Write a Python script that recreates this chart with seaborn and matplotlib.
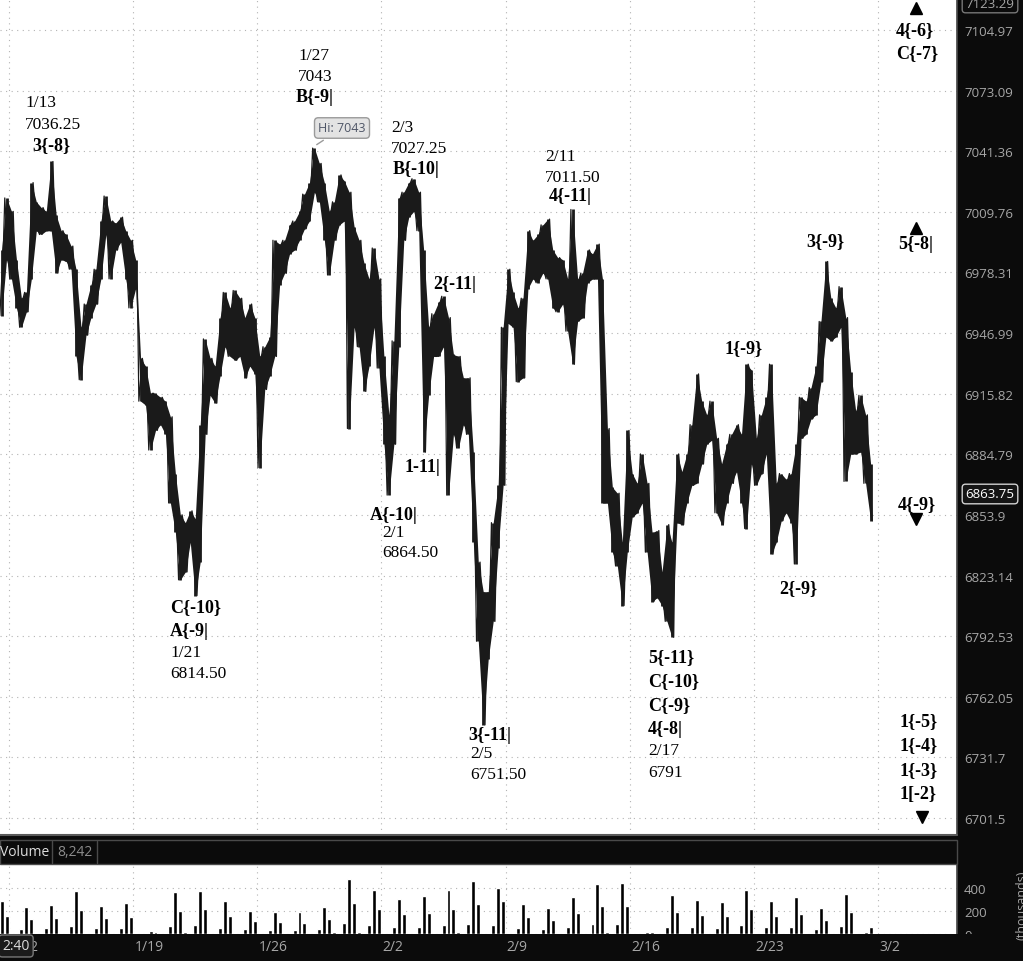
import numpy as np
import pandas as pd
import matplotlib
matplotlib.use('Agg')
import matplotlib.pyplot as plt
import seaborn as sns
from matplotlib.patches import Rectangle
from matplotlib.lines import Line2D
from matplotlib.ticker import FixedLocator, NullLocator, NullFormatter

# bars: 5 per trading day (high / low)
highs = [6990, 7017, 7010, 6985, 6965, 6968, 7025, 7015, 7012, 7010,
         7036, 7008, 7000, 6998, 6992, 6980, 6950, 6962, 6972, 6980,
         7005, 7018, 7005, 7004, 7007, 7000, 6995, 6985, 6934, 6930,
         6916, 6916, 6914, 6912, 6904, 6875, 6854, 6850, 6856, 6852,
         6900, 6944, 6934, 6930, 6955, 6968, 6960, 6969, 6965, 6955,
         6962, 6955, 6935, 6940, 6945, 6995, 6993, 6995, 7003, 7005,
         7010, 7019, 7025, 7043, 7035, 7025, 7010, 7015, 7029, 7026,
         7020, 7002, 6995, 6983, 6975, 6991, 6975, 6935, 6905, 6943,
         7017, 7020, 7025, 7027, 7020, 6990, 6950, 6957, 6963, 6966,
         6955, 6936, 6935, 6924, 6924, 6886, 6830, 6815, 6815, 6850,
         6869, 6950, 6980, 6968, 6960, 6965, 7000, 6995, 6998, 7003,
         7006, 6990, 6986, 6985, 6975, 7011, 6975, 6978, 6990, 6988,
         6993, 6975, 6898, 6868, 6865, 6840, 6897, 6875, 6870, 6885,
         6870, 6845, 6846, 6825, 6849, 6840, 6885, 6876, 6885, 6900,
         6926, 6912, 6905, 6912, 6893, 6880, 6890, 6895, 6900, 6895,
         6931, 6928, 6893, 6905, 6914, 6931, 6870, 6875, 6872, 6875,
         6890, 6914, 6912, 6919, 6930, 6953, 6984, 6965, 6960, 6971,
         6955, 6927, 6907, 6915, 6905, 6880]
lows = [6956, 6985, 6975, 6960, 6950, 6958, 6975, 7000, 6998, 7000,
        7000, 6978, 6985, 6984, 6980, 6935, 6923, 6946, 6955, 6962,
        6975, 6998, 6975, 6990, 6994, 6975, 6960, 6970, 6912, 6910,
        6887, 6897, 6900, 6895, 6860, 6845, 6821, 6825, 6840, 6813,
        6830, 6895, 6915, 6911, 6925, 6940, 6935, 6933, 6935, 6924,
        6930, 6926, 6878, 6918, 6925, 6935, 6972, 6978, 6988, 6990,
        6995, 7001, 7005, 7020, 7015, 6995, 6977, 6995, 7003, 7005,
        6898, 6950, 6940, 6917, 6930, 6950, 6929, 6890, 6864, 6890,
        6940, 6995, 7007, 7010, 7000, 6886, 6915, 6935, 6935, 6940,
        6864, 6895, 6888, 6900, 6895, 6840, 6790, 6748, 6781, 6800,
        6837, 6869, 6952, 6950, 6922, 6924, 6970, 6975, 6973, 6978,
        6975, 6960, 6958, 6962, 6948, 6931, 6953, 6955, 6973, 6975,
        6975, 6860, 6860, 6835, 6828, 6808, 6835, 6853, 6855, 6860,
        6835, 6810, 6812, 6808, 6800, 6792, 6850, 6849, 6860, 6869,
        6870, 6880, 6890, 6892, 6855, 6849, 6860, 6870, 6876, 6860,
        6847, 6880, 6869, 6875, 6885, 6834, 6840, 6851, 6855, 6850,
        6829, 6893, 6895, 6903, 6905, 6922, 6945, 6943, 6945, 6950,
        6871, 6885, 6885, 6886, 6870, 6851]
volume = [290,
          160, 10, 6, 45, 232,   128, 8, 5, 50, 255,   140, 12, 8, 70, 377,
          210, 9, 6, 48, 246,    135, 10, 7, 52, 267,  150, 12, 6, 10, 30,
          18, 10, 8, 70, 362,    200, 14, 9, 75, 377,  215, 11, 7, 55, 290,
          160, 9, 6, 40, 203,    115, 8, 5, 38, 194,   105, 9, 6, 36, 188,
          100, 10, 7, 45, 232,   130, 15, 10, 95, 478, 270, 14, 9, 75, 383,
          215, 12, 8, 60, 304,   170, 11, 7, 65, 328,  185, 13, 9, 75, 383,
          215, 14, 10, 90, 464,  260, 13, 9, 80, 400,  290, 10, 7, 50, 261,
          150, 9, 6, 45, 226,    125, 11, 8, 62, 319,  180, 13, 9, 85, 435,
          240, 14, 10, 88, 443,  245, 12, 6, 8, 20,    14, 10, 8, 65, 339,
          190, 11, 7, 58, 299,   165, 10, 7, 55, 281,  155, 12, 8, 75, 385,
          215, 11, 7, 58, 290,   160, 11, 8, 62, 319,  175, 9, 6, 45, 226,
          125, 12, 8, 68, 348,   190, 10, 7, 20, 58]
last_price = 6863.75
last_volume = '8,242'

price_ticks = [7104.97, 7073.09, 7041.36, 7009.76, 6978.31, 6946.99, 6915.82,
               6884.79, 6853.9, 6823.14, 6792.53, 6762.05, 6731.7, 6701.5]
price_labels = ['7104.97', '7073.09', '7041.36', '7009.76', '6978.31', '6946.99', '6915.82',
                '6884.79', '6853.9', '6823.14', '6792.53', '6762.05', '6731.7', '6701.5']
date_ticks = [0, 5, 10, 15, 20, 25, 30, 35]   # trading days from 1/12
date_labels = ['1/12', '1/19', '1/26', '2/2', '2/9', '2/16', '2/23', '3/2']
vol_ticks = [0, 200, 400]

# wave labels (pixel x left, pixel y centre, text, bold)
waves = [
    (25, 103, '1/13', 0), (25, 125, '7036.25', 0), (32, 146, '3{-8}', 1),
    (298, 56, '1/27', 0), (298, 77, '7043', 0), (296, 98, 'B{-9|', 1),
    (391, 128, '2/3', 0), (391, 149, '7027.25', 0), (393, 170, 'B{-10|', 1),
    (545, 157, '2/11', 0), (545, 178, '7011.50', 0), (549, 197, '4{-11|', 1),
    (433, 285, '2{-11|', 1), (405, 468, '1-11|', 1),
    (370, 515, 'A{-10|', 1), (382, 533, '2/1', 0), (382, 553, '6864.50', 0),
    (170, 608, 'C{-10}', 1), (170, 632, 'A{-9|', 1), (170, 653, '1/21', 0), (170, 674, '6814.50', 0),
    (468, 735, '3{-11|', 1), (470, 754, '2/5', 0), (470, 775, '6751.50', 0),
    (648, 658, '5{-11}', 1), (648, 682, 'C{-10}', 1), (648, 706, 'C{-9}', 1), (648, 730, '4{-8|', 1),
    (648, 751, '2/17', 0), (648, 773, '6791', 0),
    (725, 349, '1{-9}', 1), (806, 242, '3{-9}', 1), (779, 589, '2{-9}', 1),
    (896, 31, '4{-6}', 1), (896, 54, 'C{-7}', 1), (898, 245, '5{-8|', 1), (898, 505, '4{-9}', 1),
    (900, 722, '1{-5}', 1), (900, 746, '1{-4}', 1), (900, 771, '1{-3}', 1), (900, 795, '1[-2}', 1),
]
arrows = [(916, 9, '^'), (916, 229, '^'), (916, 520, 'v'), (922, 818, 'v')]

sns.set_theme(style='white')
plt.rcParams['font.family'] = ['Open Sans', 'DejaVu Sans']

DARK = '#0b0b0b'
GREY = '#a6a6a6'
INK = '#1a1a1a'
W, H = 1023, 962
PW = 957            # width of the plotting area in px
bar_day = np.arange(len(highs)) / 5 - 0.3
x_left = -9 / 24.83
x_right = (PW - 9) / 24.83

fig = plt.figure(figsize=(W / 100, H / 100), dpi=100, facecolor=DARK)

# ---- price panel
ax = fig.add_axes([0, 1 - 836 / H, PW / W, 836 / H], facecolor='white')
ax.fill_between(bar_day, lows, highs, color=INK, lw=0)
ax.vlines(bar_day, lows, highs, color=INK, lw=2.0)
zx, zy = [], []
for i, (t, h, l) in enumerate(zip(bar_day, highs, lows)):
    zx += [t - 0.07, t + 0.07]
    zy += [l, h] if i % 2 == 0 else [h, l]
sns.lineplot(x=zx, y=zy, sort=False, estimator=None, color=INK, lw=0.9, ax=ax)
ax.set_yscale('log')
ax.set_ylim(6693.1, 7121.33)
ax.set_xlim(x_left, x_right)
ax.yaxis.set_major_locator(FixedLocator(price_ticks))
ax.yaxis.set_minor_locator(NullLocator())
ax.yaxis.set_minor_formatter(NullFormatter())
ax.set_yticklabels(price_labels)
ax.yaxis.tick_right()
ax.set_xticks(date_ticks)
ax.set_xticklabels([])
ax.tick_params(axis='y', length=0, pad=5, labelcolor=GREY, labelsize=9.5)
ax.tick_params(axis='x', length=0)
ax.grid(True, color='#b3b3b3', ls=(0, (1, 4)), lw=0.8)
for s in ['top', 'left', 'bottom']:
    ax.spines[s].set_visible(False)
ax.spines['right'].set_color('#4a4a4a')

for x, y, txt, b in waves:
    ax.text(x / PW, 1 - y / 836, txt, transform=ax.transAxes, ha='left', va='center',
            family='Liberation Serif', fontweight='bold' if b else 'normal',
            fontsize=13 if b else 12.5, color='black')
for x, y, m in arrows:
    ax.plot([x / PW], [1 - y / 836], marker=m, color='black', ms=8, transform=ax.transAxes,
            clip_on=False)

ax.annotate('Hi: 7043', xy=(bar_day[63], 7044), xytext=(342 / PW, 1 - 129 / 836),
            textcoords='axes fraction', ha='center', va='center', fontsize=9, color='#4e5566',
            bbox=dict(boxstyle='round,pad=0.3', fc='#e3e3e3', ec='#9a9a9a', lw=1),
            arrowprops=dict(arrowstyle='-', color='#9a9a9a', lw=1))

# ---- volume panel
axv = fig.add_axes([0, 27 / H, PW / W, 70 / H], facecolor='white')
axv.bar(bar_day, volume, width=0.16, color='black')
axv.set_xlim(x_left, x_right)
axv.set_ylim(0, 609)
axv.set_yticks(vol_ticks)
axv.yaxis.tick_right()
axv.set_xticks(date_ticks)
axv.set_xticklabels([])
axv.tick_params(axis='y', length=0, pad=5, labelcolor=GREY, labelsize=9.5)
axv.tick_params(axis='x', length=0)
axv.grid(True, color='#b3b3b3', ls=(0, (1, 4)), lw=0.8)
for s in ['top', 'left', 'bottom']:
    axv.spines[s].set_visible(False)
axv.spines['right'].set_color('#4a4a4a')

# ---- date strip
axd = fig.add_axes([0, 0, 1, 27 / H], facecolor=DARK, zorder=3)
axd.set_xlim(x_left, (W - 9) / 24.83)
axd.set_ylim(0, 1)
axd.axis('off')
axd.add_patch(Rectangle((0, 0), 1, 1, transform=axd.transAxes, fc=DARK, ec='none'))
for t, lab in zip(date_ticks, date_labels):
    axd.text(t + 0.05, 0.55, lab, color=GREY, fontsize=10, ha='left', va='center')
fig.text(16 / W, 1 - 947 / H, '2:40', color='#dddddd', fontsize=10, ha='center', va='center',
         zorder=10, bbox=dict(boxstyle='round,pad=0.25', fc='#1b1b1b', ec='#777777', lw=1))

# ---- volume header bar
fig.add_artist(Line2D([0, PW / W], [1 - 836 / H, 1 - 836 / H], color='#5a5a5a', lw=1.5))
fig.add_artist(Rectangle((0, 1 - 865 / H), PW / W, 24 / H, transform=fig.transFigure,
                         fc=DARK, ec='#4a4a4a', lw=1))
fig.text(0, 1 - 853 / H, 'Volume', color='#dddddd', fontsize=10, ha='left', va='center')
fig.text(57 / W, 1 - 853 / H, last_volume, color='#8c8c8c', fontsize=10, ha='left', va='center')
for xs in (52, 97):
    fig.add_artist(Line2D([xs / W, xs / W], [1 - 864 / H, 1 - 842 / H], color='#4a4a4a', lw=1))
fig.text(1016 / W, 1 - 905 / H, '(thousands)', color=GREY, fontsize=9, rotation=90,
         ha='left', va='center')

# ---- price boxes on the scale
fig.text(990 / W, 1 - 4 / H, '7123.29', color=GREY, fontsize=9.5, ha='center', va='center',
         bbox=dict(boxstyle='round,pad=0.25', fc=DARK, ec='#777777', lw=1))
fig.text(990 / W, 1 - 495 / H, f'{last_price:.2f}', color='white', fontsize=9.5, ha='center',
         va='center', bbox=dict(boxstyle='round,pad=0.25', fc='#151515', ec='#d0d0d0', lw=1))

fig.savefig('out.png', dpi=100, facecolor=DARK)
